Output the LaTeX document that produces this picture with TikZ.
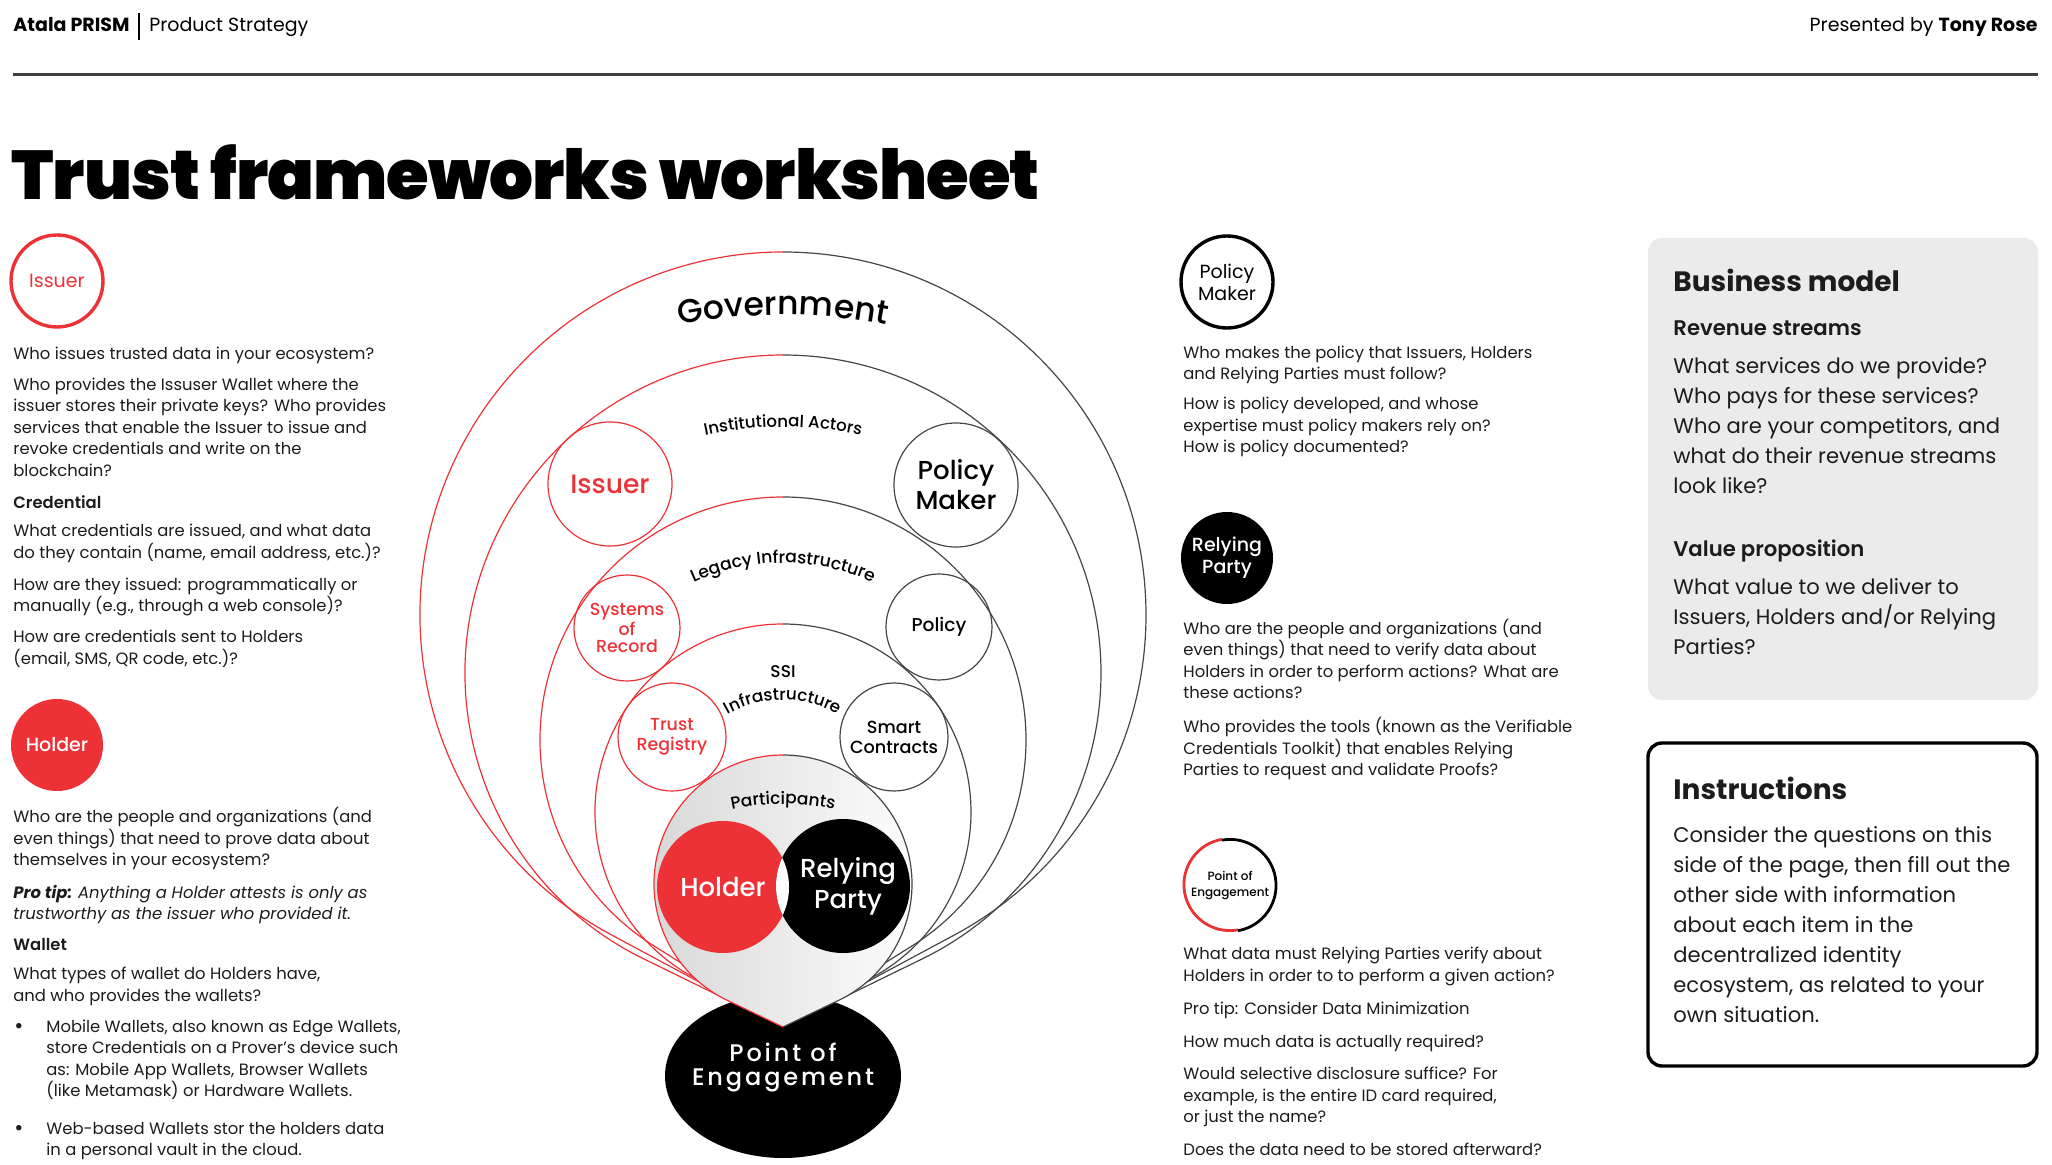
\documentclass[tikz,border=0pt]{standalone}
\usepackage{fontspec}
\setmainfont{Poppins}
\newfontfamily\popmed{Poppins Medium}
\newfontfamily\popsemi{Poppins SemiBold}
\newfontfamily\popblack{Poppins Black}
\usepackage{tikz}
\usetikzlibrary{positioning, calc}
\usetikzlibrary{shapes.geometric, decorations.text}

\definecolor{prismred}{RGB}{237,50,55}
\definecolor{ringgray}{RGB}{70,70,70}
\definecolor{panelgray}{RGB}{235,235,235}
\definecolor{ink}{RGB}{28,28,28}

% multi-line nodes sit on the baseline of their last line
\tikzstyle{bodytext}=[anchor=base west, align=left, inner sep=0pt, text=ink, font=\fontsize{8.2}{10.75}\selectfont]
\tikzstyle{bulletmark}=[anchor=base west, inner sep=0pt, text=ink, font=\fontsize{11}{10.75}\selectfont]
\tikzstyle{subhead}=[anchor=base west, inner sep=0pt, text=ink, font=\popsemi\fontsize{8.2}{10.75}\selectfont]
\tikzstyle{paneltext}=[anchor=base west, align=left, inner sep=0pt, text=ink, font=\fontsize{10.55}{15}\selectfont]
\tikzstyle{paneltitle}=[anchor=base west, inner sep=0pt, text=ink, font=\bfseries\fontsize{14}{17}\selectfont]
\tikzstyle{panelsub}=[anchor=base west, inner sep=0pt, text=ink, font=\popsemi\fontsize{10.6}{15}\selectfont]
\tikzstyle{roleicon}=[circle, inner sep=0pt, minimum size=46pt, align=center, font=\fontsize{9.5}{11}\selectfont]
\tikzstyle{actor}=[circle, draw, line width=0.6pt, inner sep=0pt, align=center]
\tikzstyle{ringred}=[prismred, line width=0.6pt]
\tikzstyle{ringdark}=[ringgray, line width=0.6pt]
\tikzset{ringlabel/.style 2 args={decorate, decoration={text along path, text align=center, text={|#1|#2}}}}

\begin{document}
\begin{tikzpicture}[x=0.5pt, y=0.5pt]
\useasboundingbox (0,0) rectangle (2052,-1165);

% header
\node[anchor=base west, inner sep=0pt, font=\bfseries\fontsize{9.5}{11}\selectfont] (brand) at (13,-32) {Atala PRISM};
\draw[line width=0.8pt] (139,-13) -- (139,-40);
\node[anchor=base west, inner sep=0pt, font=\fontsize{9.5}{11}\selectfont] (deck) at (149,-32) {Product Strategy};
\node[anchor=base east, inner sep=0pt, font=\fontsize{9.5}{11}\selectfont] (presenter) at (2038,-32) {Presented by \textbf{Tony Rose}};
\draw[black!75, line width=1.5pt] (13,-75) -- (2038,-75);
\node[anchor=base west, inner sep=0pt, font=\popblack\fontsize{34.5}{40}\selectfont\addfontfeature{LetterSpace=-1.5}] (title) at (11,-200) {Trust frameworks worksheet};

% left column
\node[roleicon, draw=prismred, line width=1.7pt, text=prismred] (issuerIcon) at (57,-281) {Issuer};
\node[bodytext] (issA) at (13,-359.5) {Who issues trusted data in your ecosystem?};
\node[bodytext] (issB) at (13,-476.5) {Who provides the Issuser Wallet where the\\issuer stores their private keys? Who provides\\services that enable the Issuer to issue and\\revoke credentials and write on the\\blockchain?};
\node[subhead] (credHead) at (13,-509) {Credential};
\node[bodytext] (credA) at (13,-558.5) {What credentials are issued, and what data\\do they contain (name, email address, etc.)?};
\node[bodytext] (credB) at (13,-612) {How are they issued: programmatically or\\manually (e.g., through a web console)?};
\node[bodytext] (credC) at (13,-664.5) {How are credentials sent to Holders\\(email, SMS, QR code, etc.)?};

\node[roleicon, fill=prismred, text=white, font=\popmed\fontsize{9.5}{11}\selectfont] (holderIcon) at (57,-745) {Holder};
\node[bodytext] (holdA) at (13,-865.5) {Who are the people and organizations (and\\even things) that need to prove data about\\themselves in your ecosystem?};
\node[bodytext] (holdB) at (13,-919.5) {{\bfseries\itshape Pro tip:} \textit{Anything a Holder attests is only as}\\\textit{trustworthy as the issuer who provided it.}};
\node[subhead] (walletHead) at (13,-950) {Wallet};
\node[bodytext] (walletA) at (13,-1001) {What types of wallet do Holders have,\\and who provides the wallets?};
\node[bulletmark] (dotA) at (14,-1033) {\textbullet};
\node[bodytext] (walletB) at (46,-1096.5) {Mobile Wallets, also known as Edge Wallets,\\store Credentials on a Prover’s device such\\as: Mobile App Wallets, Browser Wallets\\(like Metamask) or Hardware Wallets.};
\node[bulletmark] (dotB) at (14,-1135) {\textbullet};
\node[bodytext] (walletC) at (46,-1155.5) {Web-based Wallets stor the holders data\\in a personal vault in the cloud.};

% rings of the ecosystem
\coordinate (tip) at (783,-1027);
\foreach \cy/\rr in {615/363, 673/318, 740/243, 812/188}{
  \pgfmathsetmacro{\aa}{acos(\rr/(1027-\cy))}
  \draw[ringred] (tip) -- ($(783,-\cy)+(270-\aa:\rr)$) arc[start angle=270-\aa, end angle=90, radius=\rr];
  \draw[ringdark] ($(783,-\cy)+(90:\rr)$) arc[start angle=90, end angle=-90+\aa, radius=\rr] -- (tip);
}

\node[actor, draw=prismred, text=prismred, minimum size=62pt, font=\popmed\fontsize{13.3}{15}\selectfont] (issuer) at (610,-484) {Issuer};
\node[actor, draw=ringgray, minimum size=62pt, font=\popmed\fontsize{13}{15}\selectfont] (maker) at (956,-485) {Policy\\Maker};
\node[actor, draw=prismred, text=prismred, minimum size=53pt, font=\popmed\fontsize{8.7}{8.5}\selectfont] (records) at (627,-628) {Systems\\of\\Record};
\node[actor, draw=ringgray, minimum size=53pt, font=\popmed\fontsize{9.3}{11}\selectfont] (policy) at (939,-627) {Policy};
\node[actor, draw=prismred, text=prismred, minimum size=54pt, font=\popmed\fontsize{8.7}{10}\selectfont] (registry) at (672,-737) {Trust\\Registry};
\node[actor, draw=ringgray, minimum size=54pt, font=\popmed\fontsize{8.8}{10}\selectfont] (contracts) at (894,-737) {Smart\\Contracts};

\node[ellipse, fill=black, inner sep=0pt, minimum width=118pt, minimum height=82pt] (poe) at (783,-1076) {};
\node[text=white, align=center, inner sep=0pt, font=\popmed\fontsize{12}{12}\selectfont\addfontfeature{LetterSpace=12}] (poeLabel) at (783,-1067) {Point of\\Engagement};

% participants
\pgfmathsetmacro{\pa}{acos(129/143)}
\path[left color=black!16, middle color=white, right color=white] (tip) -- ($(783,-884)+(270-\pa:129)$) arc[start angle=270-\pa, end angle=-90+\pa, radius=129] -- cycle;
\draw[ringred] (tip) -- ($(783,-884)+(270-\pa:129)$) arc[start angle=270-\pa, end angle=90, radius=129];
\draw[ringdark] ($(783,-884)+(90:129)$) arc[start angle=90, end angle=-90+\pa, radius=129] -- (tip);

\node[circle, fill=prismred, inner sep=0pt, minimum size=66pt, text=white, font=\popmed\fontsize{13}{15.5}\selectfont] (holder) at (723,-887) {Holder};
\node[circle, fill=black, inner sep=0pt, minimum size=67pt, text=white, align=center, font=\popmed\fontsize{13}{15.5}\selectfont] (party) at (843,-886) {\hspace*{5pt}Relying\\\hspace*{5pt}Party};
\begin{scope}
  \clip (holder.center) circle[radius=66];
  \fill[white] (party.center) circle[radius=67];
\end{scope}

% ring labels
\path[ringlabel={\popmed\fontsize{16.5}{20}\selectfont}{Government}] ($(783,-875)+(110:560)$) arc[start angle=110, end angle=70, radius=560];
\path[ringlabel={\popmed\fontsize{8.3}{10}\selectfont}{Institutional Actors}] ($(783,-807)+(115:380)$) arc[start angle=115, end angle=65, radius=380];
\path[ringlabel={\popmed\fontsize{8.6}{10}\selectfont}{Legacy Infrastructure}] ($(783,-778)+(140:215)$) arc[start angle=140, end angle=40, radius=215];
\node[inner sep=0pt, font=\popmed\fontsize{8.5}{10}\selectfont] (ssi) at (783,-672) {SSI};
\path[ringlabel={\popmed\fontsize{8.4}{10}\selectfont}{Infrastructure}] ($(783,-812)+(150:112)$) arc[start angle=150, end angle=30, radius=112];
\path[ringlabel={\popmed\fontsize{8.5}{10}\selectfont}{Participants}] ($(783,-1054)+(120:250)$) arc[start angle=120, end angle=60, radius=250];

% right column
\node[roleicon, draw=black, line width=1.7pt] (makerIcon) at (1227,-282) {Policy\\Maker};
\node[bodytext] (pmA) at (1183,-380) {Who makes the policy that Issuers, Holders\\and Relying Parties must follow?};
\node[bodytext] (pmB) at (1183,-453) {How is policy developed, and whose\\expertise must policy makers rely on?\\How is policy documented?};

\node[roleicon, fill=black, text=white, font=\popmed\fontsize{9.5}{11}\selectfont] (partyIcon) at (1227,-558) {Relying\\Party};
\node[bodytext] (rpA) at (1183,-699) {Who are the people and organizations (and\\even things) that need to verify data about\\Holders in order to perform actions? What are\\these actions?};
\node[bodytext] (rpB) at (1183,-776) {Who provides the tools (known as the Verifiable\\Credentials Toolkit) that enables Relying\\Parties to request and validate Proofs?};

\node[roleicon, font=\popmed\fontsize{6}{8}\selectfont] (poeIcon) at (1230,-885) {Point of\\Engagement};
\draw[prismred, line width=1.4pt] (poeIcon.100) arc[start angle=100, end angle=280, radius=46];
\draw[black, line width=1.4pt] (poeIcon.280) arc[start angle=280, end angle=460, radius=46];
\node[bodytext] (poeA) at (1183,-981) {What data must Relying Parties verify about\\Holders in order to to perform a given action?};
\node[bodytext] (poeB) at (1183,-1014.5) {Pro tip: Consider Data Minimization};
\node[bodytext] (poeC) at (1183,-1047.5) {How much data is actually required?};
\node[bodytext] (poeD) at (1183,-1122.5) {Would selective disclosure suffice? For\\example, is the entire ID card required,\\or just the name?};
\node[bodytext] (poeE) at (1183,-1155.5) {Does the data need to be stored afterward?};

% panels
\fill[panelgray, rounded corners=7pt] (1648,-238) rectangle (2038,-700);
\node[paneltitle] (bizTitle) at (1673,-292) {Business model};
\node[panelsub] (revTitle) at (1673,-336) {Revenue streams};
\node[paneltext] (revBody) at (1673,-494) {What services do we provide?\\Who pays for these services?\\Who are your competitors, and\\what do their revenue streams\\look like?};
\node[panelsub] (valTitle) at (1673,-557) {Value proposition};
\node[paneltext] (valBody) at (1673,-655) {What value to we deliver to\\Issuers, Holders and/or Relying\\Parties?};

\draw[line width=1.7pt, rounded corners=7pt] (1648,-743) rectangle (2037,-1066);
\node[paneltitle] (instTitle) at (1673,-799) {Instructions};
\node[paneltext] (instBody) at (1673,-1022) {Consider the questions on this\\side of the page, then fill out the\\other side with information\\about each item in the\\decentralized identity\\ecosystem, as related to your\\own situation.};
\end{tikzpicture}
\end{document}
